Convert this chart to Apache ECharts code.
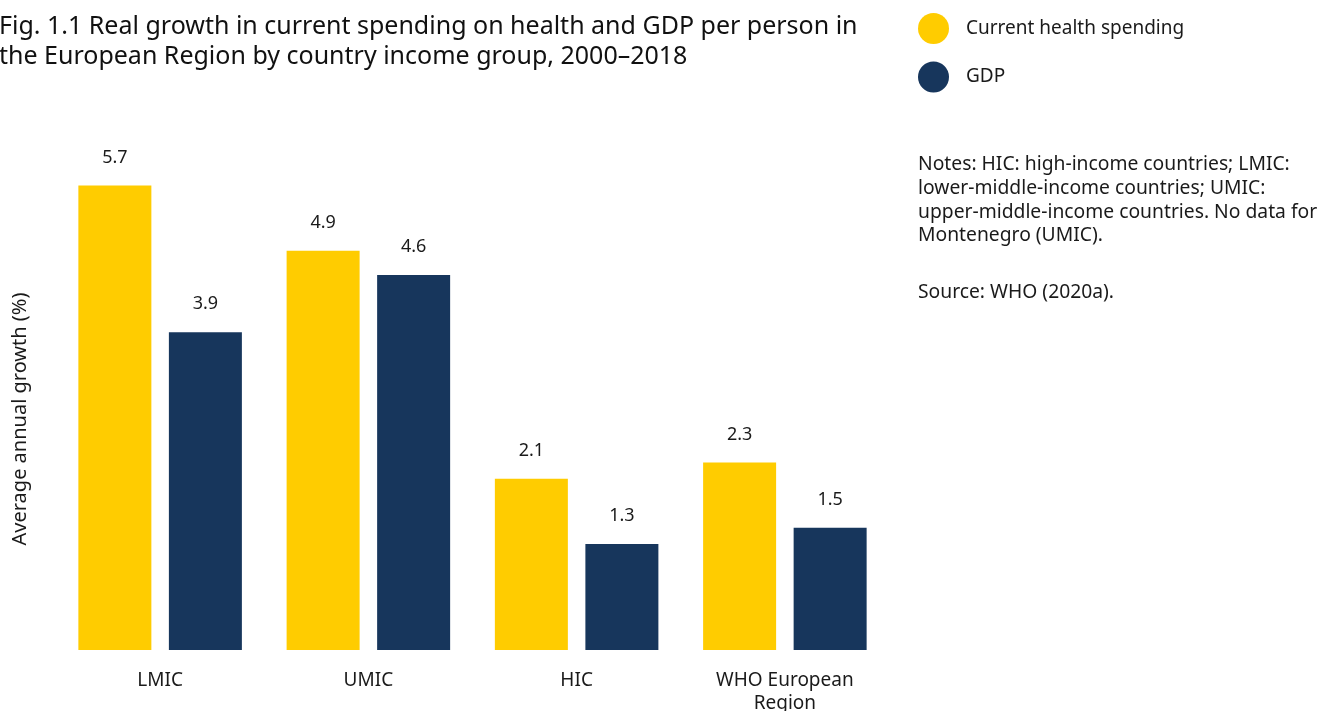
<!DOCTYPE html>
<html>
<head>
<meta charset="utf-8">
<title>Real growth in current spending on health and GDP per person</title>
<script src="https://cdn.jsdelivr.net/npm/echarts@6/dist/echarts.min.js"></script>
<style>
  html, body { margin: 0; padding: 0; background: #ffffff; }
  #chart { width: 1323px; height: 711px; }
</style>
</head>
<body>
<div id="chart"></div>
<script>
// Income groups on the category axis
const categories = ['LMIC', 'UMIC', 'HIC', 'WHO European\nRegion'];
// Average annual real growth, 2000–2018 (%)
const healthSpending = [5.7, 4.9, 2.1, 2.3];
const gdp = [3.9, 4.6, 1.3, 1.5];

const seriesNames = ['Current health spending', 'GDP'];
const FONT = '"Noto Sans", "Open Sans", sans-serif';
const YELLOW = '#FFCC00';
const NAVY = '#17365C';
const INK = '#1a1a1a';

const chart = echarts.init(document.getElementById('chart'), null, { renderer: 'canvas' });

const valueLabel = {
  show: true,
  position: 'top',
  distance: 19,
  fontFamily: FONT,
  fontSize: 18,
  color: INK,
  formatter: p => p.value.toFixed(1)
};

chart.setOption({
  backgroundColor: '#ffffff',
  animation: false,
  title: [
    {
      text: 'Fig. 1.1 Real growth in current spending on health and GDP per person in\nthe European Region by country income group, 2000\u20132018',
      left: -1,
      top: 12,
      padding: 0,
      textStyle: { fontFamily: FONT, fontSize: 25, fontWeight: 'normal', color: '#111', lineHeight: 30 }
    },
    {
      text: 'Notes: HIC: high-income countries; LMIC:\nlower-middle-income countries; UMIC:\nupper-middle-income countries. No data for\nMontenegro (UMIC).',
      left: 918,
      top: 153,
      padding: 0,
      textStyle: { fontFamily: FONT, fontSize: 19.3, fontWeight: 'normal', color: INK, lineHeight: 23.7 }
    },
    {
      text: 'Source: WHO (2020a).',
      left: 918,
      top: 281,
      padding: 0,
      textStyle: { fontFamily: FONT, fontSize: 19.3, fontWeight: 'normal', color: INK, lineHeight: 23.7 }
    }
  ],
  legend: {
    orient: 'vertical',
    left: 918,
    top: 13,
    padding: 0,
    icon: 'circle',
    itemWidth: 31,
    itemHeight: 31,
    itemGap: 17.5,
    data: seriesNames,
    textStyle: { fontFamily: FONT, fontSize: 19, color: INK, padding: [0, 0, 0, 12] }
  },
  graphic: [
    {
      type: 'text',
      x: 20,
      y: 419,
      rotation: Math.PI / 2,
      style: {
        text: 'Average annual growth (%)',
        fontFamily: FONT,
        fontSize: 20,
        fill: INK,
        align: 'center',
        verticalAlign: 'middle'
      }
    }
  ],
  grid: {
    left: 56,
    right: 434,
    top: 161,
    bottom: 61,
    containLabel: false,
    outerBoundsMode: 'none'
  },
  xAxis: {
    type: 'category',
    data: categories,
    axisLine: { show: false },
    axisTick: { show: false },
    axisLabel: {
      margin: 19,
      fontFamily: FONT,
      fontSize: 19,
      lineHeight: 23,
      color: INK,
      interval: 0
    }
  },
  yAxis: {
    type: 'value',
    min: 0,
    max: 6,
    interval: 1,
    axisLine: { show: false },
    axisTick: { show: false },
    axisLabel: { show: false },
    splitLine: { show: false }
  },
  series: [
    {
      name: seriesNames[0],
      type: 'bar',
      data: healthSpending,
      barWidth: 73,
      barGap: '24%',
      itemStyle: { color: YELLOW },
      label: valueLabel
    },
    {
      name: seriesNames[1],
      type: 'bar',
      data: gdp,
      barWidth: 73,
      barGap: '24%',
      itemStyle: { color: NAVY },
      label: valueLabel
    }
  ]
});
</script>
</body>
</html>
